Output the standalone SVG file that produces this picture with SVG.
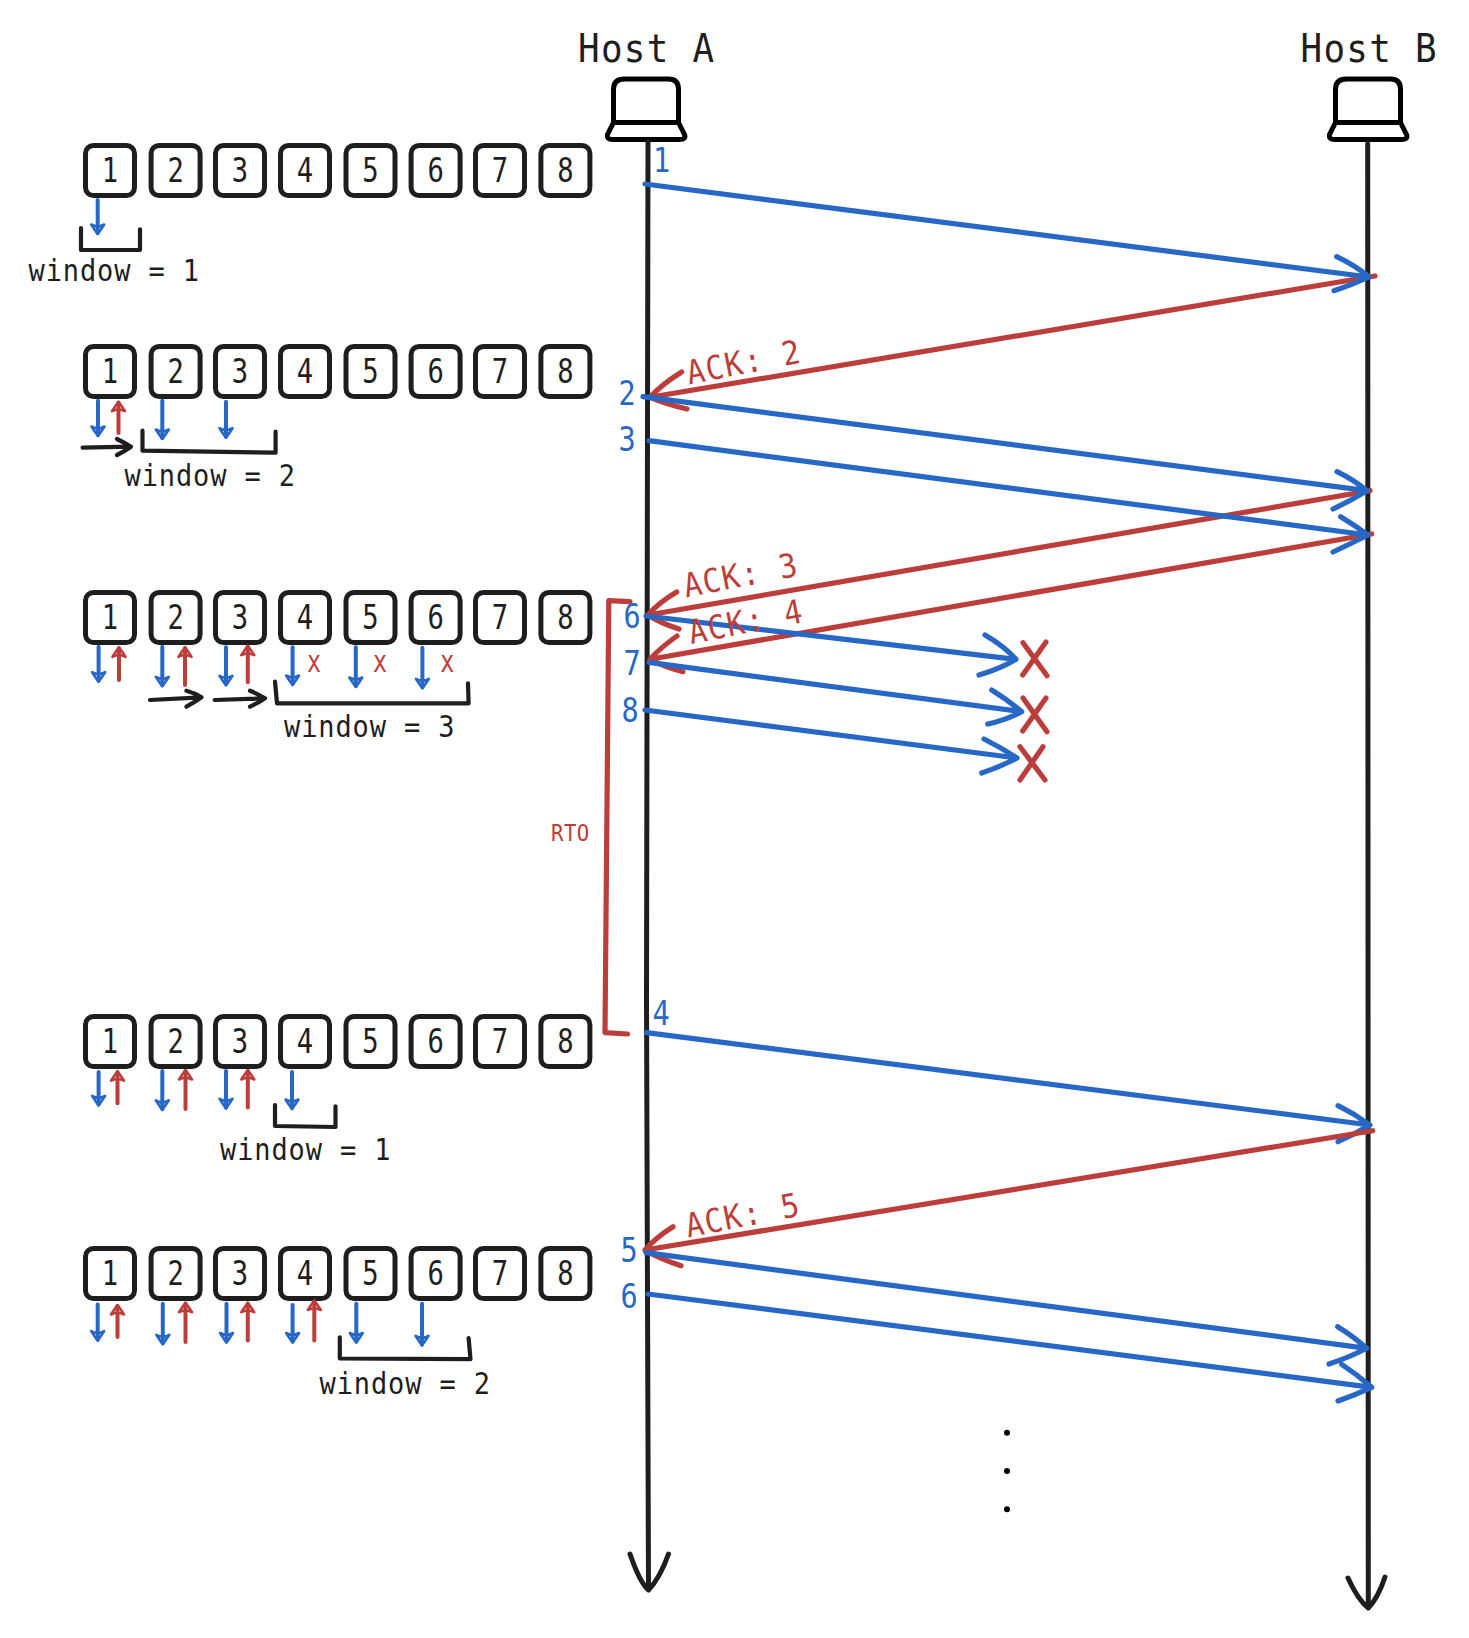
<svg xmlns="http://www.w3.org/2000/svg" width="1469" height="1638" viewBox="0 0 1469 1638">
<style>
text{font-family:"DejaVu Sans Mono","Liberation Mono",monospace}
.d{font-size:34px;fill:#1e1e1e;text-anchor:middle;transform-box:fill-box;transform-origin:center;transform:scaleX(.8)}
.n{font-size:34px;fill:#2767c6;text-anchor:middle;transform-box:fill-box;transform-origin:center;transform:scaleX(.84)}
.w{font-size:30px;letter-spacing:1px;fill:#1e1e1e;transform-box:fill-box;transform-origin:0 50%;transform:scaleX(.9)}
.x{font-size:30px;fill:#bc3e3a;text-anchor:middle;transform-box:fill-box;transform-origin:center;transform:scaleX(.78)}
.h{font-size:39px;letter-spacing:1.4px;fill:#1e1e1e;transform-box:fill-box;transform-origin:0 50%;transform:scaleX(.92)}
.a{font-size:33px;letter-spacing:1.7px;fill:#bc3e3a}
.r{font-size:23px;letter-spacing:.5px;fill:#bc3e3a;transform-box:fill-box;transform-origin:0 50%;transform:scaleX(.9)}
path,rect{fill:none;stroke-linecap:round;stroke-linejoin:round}
.box{stroke:#1e1e1e;stroke-width:5}
.lap{stroke:#000;stroke-width:5}
.lk{stroke:#1e1e1e;stroke-width:5}
.bl{stroke:#2767c6;stroke-width:5.2}
.rd{stroke:#bc3e3a;stroke-width:5.2}
.bk{stroke:#1e1e1e;stroke-width:4.2}
.sb{stroke:#2767c6;stroke-width:4;marker-end:url(#hb)}
.sr{stroke:#bc3e3a;stroke-width:4;marker-end:url(#hr)}
.sk{stroke:#1e1e1e;stroke-width:4.2}
</style>
<defs>
<rect id="b" class="box" x="-.5" y="-.5" width="49" height="50" rx="8"/>
<path id="lapt" class="lap" d="M6 47V14Q6 3.5 17 3.5H61Q71 3.5 71 14V47M6 47H71M6 47L0 59Q-1 64 5 64H72Q79 64 77 59L71 47"/>
<marker id="hb" markerUnits="userSpaceOnUse" markerWidth="24" markerHeight="24" refX="12" refY="12" orient="auto" overflow="visible"><path d="M3.5 5.5Q9 9 13 12Q9 15 3.5 18.5Q7 12 3.5 5.5Z" fill="#2767c6" stroke="#2767c6" stroke-width="2.6"/></marker>
<marker id="hr" markerUnits="userSpaceOnUse" markerWidth="24" markerHeight="24" refX="12" refY="12" orient="auto" overflow="visible"><path d="M3.5 5.5Q9 9 13 12Q9 15 3.5 18.5Q7 12 3.5 5.5Z" fill="#bc3e3a" stroke="#bc3e3a" stroke-width="2.6"/></marker>
</defs>
<rect width="1469" height="1638" fill="#fff" style="stroke:none"/>

<g id="hostA"><text class="h" x="578" y="62">Host A</text><use href="#lapt" transform="translate(607.5 75.5)"/></g>
<g id="hostB"><text class="h" x="1300.5" y="62">Host B</text><use href="#lapt" transform="translate(1329.5 75.5)"/></g>

<g id="row1">
<g id="r1b1" transform="translate(86 146)"><use href="#b"/><text class="d" x="24" y="36.2">1</text></g>
<g id="r1b2" transform="translate(151.6 146)"><use href="#b"/><text class="d" x="24" y="36.2">2</text></g>
<g id="r1b3" transform="translate(216 146)"><use href="#b"/><text class="d" x="24" y="36.2">3</text></g>
<g id="r1b4" transform="translate(281 146)"><use href="#b"/><text class="d" x="24" y="36.2">4</text></g>
<g id="r1b5" transform="translate(346.5 146)"><use href="#b"/><text class="d" x="24" y="36.2">5</text></g>
<g id="r1b6" transform="translate(411.6 146)"><use href="#b"/><text class="d" x="24" y="36.2">6</text></g>
<g id="r1b7" transform="translate(476 146)"><use href="#b"/><text class="d" x="24" y="36.2">7</text></g>
<g id="r1b8" transform="translate(541.4 146)"><use href="#b"/><text class="d" x="24" y="36.2">8</text></g>
<text class="w" x="28.5" y="281">window = 1</text>
</g>
<g id="row2">
<g id="r2b1" transform="translate(86 347)"><use href="#b"/><text class="d" x="24" y="36.2">1</text></g>
<g id="r2b2" transform="translate(151.6 347)"><use href="#b"/><text class="d" x="24" y="36.2">2</text></g>
<g id="r2b3" transform="translate(216 347)"><use href="#b"/><text class="d" x="24" y="36.2">3</text></g>
<g id="r2b4" transform="translate(281 347)"><use href="#b"/><text class="d" x="24" y="36.2">4</text></g>
<g id="r2b5" transform="translate(346.5 347)"><use href="#b"/><text class="d" x="24" y="36.2">5</text></g>
<g id="r2b6" transform="translate(411.6 347)"><use href="#b"/><text class="d" x="24" y="36.2">6</text></g>
<g id="r2b7" transform="translate(476 347)"><use href="#b"/><text class="d" x="24" y="36.2">7</text></g>
<g id="r2b8" transform="translate(541.4 347)"><use href="#b"/><text class="d" x="24" y="36.2">8</text></g>
<text class="w" x="124.5" y="486">window = 2</text>
</g>
<g id="row3">
<g id="r3b1" transform="translate(86 593)"><use href="#b"/><text class="d" x="24" y="36.2">1</text></g>
<g id="r3b2" transform="translate(151.6 593)"><use href="#b"/><text class="d" x="24" y="36.2">2</text></g>
<g id="r3b3" transform="translate(216 593)"><use href="#b"/><text class="d" x="24" y="36.2">3</text></g>
<g id="r3b4" transform="translate(281 593)"><use href="#b"/><text class="d" x="24" y="36.2">4</text></g>
<g id="r3b5" transform="translate(346.5 593)"><use href="#b"/><text class="d" x="24" y="36.2">5</text></g>
<g id="r3b6" transform="translate(411.6 593)"><use href="#b"/><text class="d" x="24" y="36.2">6</text></g>
<g id="r3b7" transform="translate(476 593)"><use href="#b"/><text class="d" x="24" y="36.2">7</text></g>
<g id="r3b8" transform="translate(541.4 593)"><use href="#b"/><text class="d" x="24" y="36.2">8</text></g>
<text class="w" x="284" y="736.7">window = 3</text>
<text class="x" x="314" y="671.7">x</text><text class="x" x="380" y="671.7">x</text><text class="x" x="447.4" y="671.7">x</text>
</g>
<g id="row4">
<g id="r4b1" transform="translate(86 1017)"><use href="#b"/><text class="d" x="24" y="36.2">1</text></g>
<g id="r4b2" transform="translate(151.6 1017)"><use href="#b"/><text class="d" x="24" y="36.2">2</text></g>
<g id="r4b3" transform="translate(216 1017)"><use href="#b"/><text class="d" x="24" y="36.2">3</text></g>
<g id="r4b4" transform="translate(281 1017)"><use href="#b"/><text class="d" x="24" y="36.2">4</text></g>
<g id="r4b5" transform="translate(346.5 1017)"><use href="#b"/><text class="d" x="24" y="36.2">5</text></g>
<g id="r4b6" transform="translate(411.6 1017)"><use href="#b"/><text class="d" x="24" y="36.2">6</text></g>
<g id="r4b7" transform="translate(476 1017)"><use href="#b"/><text class="d" x="24" y="36.2">7</text></g>
<g id="r4b8" transform="translate(541.4 1017)"><use href="#b"/><text class="d" x="24" y="36.2">8</text></g>
<text class="w" x="220" y="1159.7">window = 1</text>
</g>
<g id="row5">
<g id="r5b1" transform="translate(86 1249)"><use href="#b"/><text class="d" x="24" y="36.2">1</text></g>
<g id="r5b2" transform="translate(151.6 1249)"><use href="#b"/><text class="d" x="24" y="36.2">2</text></g>
<g id="r5b3" transform="translate(216 1249)"><use href="#b"/><text class="d" x="24" y="36.2">3</text></g>
<g id="r5b4" transform="translate(281 1249)"><use href="#b"/><text class="d" x="24" y="36.2">4</text></g>
<g id="r5b5" transform="translate(346.5 1249)"><use href="#b"/><text class="d" x="24" y="36.2">5</text></g>
<g id="r5b6" transform="translate(411.6 1249)"><use href="#b"/><text class="d" x="24" y="36.2">6</text></g>
<g id="r5b7" transform="translate(476 1249)"><use href="#b"/><text class="d" x="24" y="36.2">7</text></g>
<g id="r5b8" transform="translate(541.4 1249)"><use href="#b"/><text class="d" x="24" y="36.2">8</text></g>
<text class="w" x="319.5" y="1394">window = 2</text>
</g>

<g id="connectors">
<path class="lk" d="M648 142Q646 800 646.5 1000T648.5 1590M630 1554Q640 1583 648.5 1590Q660 1578 668.5 1554"/>
<path class="lk" d="M1367.7 144Q1368 900 1368.3 1607M1348 1578Q1358 1600 1368.3 1608Q1378 1598 1385 1577"/>

<path class="rd" d="M1375 276L650 397.3M681.7 372Q662 384 650 397.3Q666 404 687 409"/>
<path class="bl" d="M645 184L1369 277M1336.7 256.7Q1356 266 1369 277Q1352 285 1334 290.7"/>
<path class="rd" d="M1370 490.7L648 615M676.7 592Q658 603 648 615Q660 623 679 629"/>
<path class="rd" d="M1371.7 534L650 659.3M677 636Q660 648 650 659.3Q664 667 683 671.7"/>
<path class="bl" d="M643 396.7L1367 490.7M1337 471.7Q1354 480 1367 490.7Q1350 501 1333 509"/>
<path class="bl" d="M649 440.7L1368 535M1340.7 516.7Q1356 526 1368 535Q1350 544 1333 552"/>
<path class="bl" d="M646 616L1016 659.3M985 635Q1004 646 1016 659.3Q1000 669 979 675"/>
<path class="bl" d="M649 662.3L1021.7 711.7M991.7 690Q1008 700 1021.7 711.7Q1006 720 987.7 724"/>
<path class="bl" d="M645 710L1017 758M984 739Q1002 748 1017 758Q1000 767 981.7 773"/>
<path class="rd" d="M1023 642.7L1047 675.7M1046 642L1022.7 675"/>
<path class="rd" d="M1023 698L1047 731.7M1046 698L1022.7 731"/>
<path class="rd" d="M1020 746.7L1045 780M1043 746.7L1020 780"/>

<path class="bl" d="M646.5 1032.7L1370 1125M1338 1105.7Q1355 1114 1370 1125Q1355 1134 1338 1141.7"/>
<path class="rd" d="M1372.7 1130.7L645 1250M673 1226.7Q655 1238 645 1250Q660 1259 681 1265.7"/>
<path class="bl" d="M646 1252.7L1366.7 1348.3M1337.7 1326.7Q1353 1336 1366.7 1348.3Q1348 1358 1329 1364"/>
<path class="bl" d="M648 1294L1371.7 1387.3M1341.7 1364.3Q1358 1375 1371.7 1387.3Q1355 1395 1338 1401"/>

<path class="rd" d="M630 601.7L608.8 600.7L605 1032.7L627.6 1034"/>

<path class="bk" d="M81 228V250H140V229.3"/>
<path class="bk" d="M142.5 430.7V450.7L275.6 452.7V431.7"/>
<path class="bk" d="M275 681.7L277 703.3H468.6L468 683.3"/>
<path class="bk" d="M275 1105V1126L335.5 1127V1106.3"/>
<path class="bk" d="M339.8 1337.4V1358.5L470.5 1359.2L468.6 1338.1"/>

<path class="sk" d="M82.6 447.7L131 446.7M117 439Q125 443 131 446.7Q125 451 117 455"/>
<path class="sk" d="M150 700L201.5 697.3M186.4 690.7Q195 693 201.5 697.3Q195 702 186.4 706.7"/>
<path class="sk" d="M214.7 700L265 698.3M250 690.7Q258 694 265 698.3Q258 703 250 706.7"/>

<path class="sb" d="M97.7 200V233"/>

<path class="sb" d="M98 400.7V435"/><path class="sr" d="M118.5 433V402.7"/><path class="sb" d="M162.3 400.7V438"/><path class="sb" d="M226 401.7V436.7"/>

<path class="sb" d="M98.6 646.7V680.7"/><path class="sr" d="M119 680V648.3"/><path class="sb" d="M162.3 646.7V685.3"/><path class="sr" d="M185 685V648.3"/><path class="sb" d="M226 647.3V684.3"/><path class="sr" d="M247.8 682.3V646.7"/><path class="sb" d="M292.6 647.3V684"/><path class="sb" d="M355.8 647.3V686"/><path class="sb" d="M422.4 647.7V687.3"/>

<path class="sb" d="M98.6 1071.9V1104.4"/><path class="sr" d="M117.5 1103.3V1072.2"/><path class="sb" d="M162.3 1071V1108.9"/><path class="sr" d="M185.5 1108.9V1071"/><path class="sb" d="M226 1071V1107.4"/><path class="sr" d="M247.8 1107.4V1071"/><path class="sb" d="M292 1071.9V1108"/>

<path class="sb" d="M97.7 1304.4V1339.6"/><path class="sr" d="M117.5 1337V1306"/><path class="sb" d="M162.8 1303.7V1343.3"/><path class="sr" d="M185.5 1342V1303.7"/><path class="sb" d="M226.5 1303.7V1341.5"/><path class="sr" d="M247.8 1340.4V1303.7"/><path class="sb" d="M292.6 1305V1341.5"/><path class="sr" d="M314.3 1340.4V1301.5"/><path class="sb" d="M356.3 1303.7V1341.5"/><path class="sb" d="M422 1303.7V1344.4"/>
</g>

<g id="labels">
<text class="n" x="661.5" y="172.5">1</text>
<text class="n" x="627" y="405.5">2</text>
<text class="n" x="627" y="451">3</text>
<text class="n" x="632" y="628.5">6</text>
<text class="n" x="632" y="675.5">7</text>
<text class="n" x="630" y="722.5">8</text>
<text class="n" x="661" y="1025.5">4</text>
<text class="n" x="629" y="1262.5">5</text>
<text class="n" x="629" y="1308.5">6</text>
<text class="a" transform="translate(689 384.5) rotate(-11) scale(.9 1)">ACK: 2</text>
<text class="a" transform="translate(686 597.5) rotate(-11) scale(.9 1)">ACK: 3</text>
<text class="a" transform="translate(691 644) rotate(-11) scale(.9 1)">ACK: 4</text>
<text class="a" transform="translate(688 1237.5) rotate(-11) scale(.9 1)">ACK: 5</text>
<text class="r" x="551" y="841">RTO</text>
</g>
<g id="dots" fill="#000"><circle cx="1007" cy="1432.7" r="3"/><circle cx="1007" cy="1471" r="3"/><circle cx="1007" cy="1509.3" r="3"/></g>
</svg>
